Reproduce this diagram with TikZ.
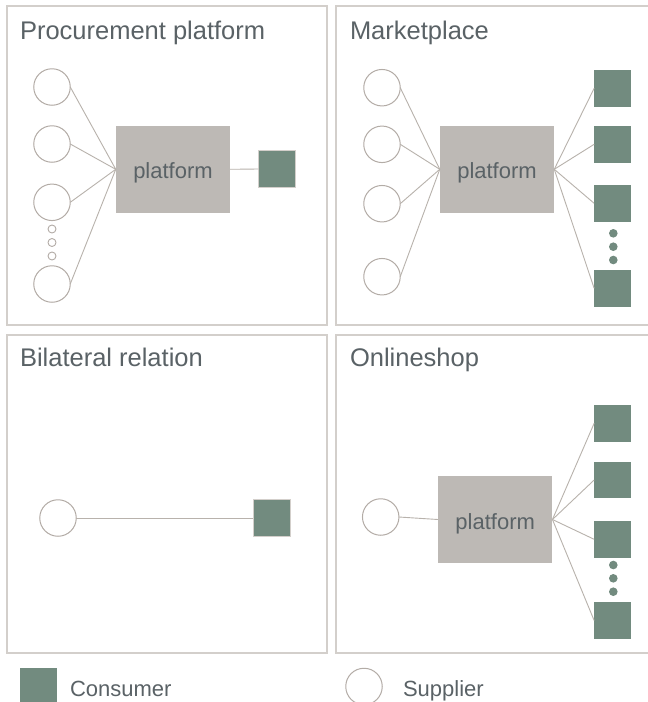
\documentclass[tikz,border=0pt]{standalone}
\usepackage{fontspec}
\setmainfont{Liberation Sans}
\usetikzlibrary{arrows}
\definecolor{framegray}{HTML}{D3CFCB}
\definecolor{supgray}{HTML}{B3ACA6}
\definecolor{linkgray}{HTML}{B8B2AC}
\definecolor{platgray}{HTML}{BDB9B5}
\definecolor{congreen}{HTML}{728B7F}
\definecolor{txtgray}{HTML}{5A6266}

\begin{document}
\begin{tikzpicture}[x=1pt,y=-1pt]
\tikzstyle{every node}=[inner sep=0pt, outer sep=0pt]
\tikzstyle{supplier}=[circle, draw=supgray, line width=1pt, fill=white, minimum size=36.5pt]
\tikzstyle{small}=[circle, draw=supgray, line width=0.9pt, fill=white, minimum size=8pt]
\tikzstyle{consumer}=[rectangle, fill=congreen, minimum size=36.7pt]
\tikzstyle{dot}=[circle, fill=congreen, minimum size=8.6pt]
\tikzstyle{platform}=[rectangle, fill=platgray, text=txtgray, minimum width=114.5pt, minimum height=86.7pt, text height=19pt, text depth=0pt, font=\fontsize{22}{26}\selectfont]
\tikzstyle{title}=[anchor=base west, text=txtgray, font=\fontsize{25.5}{30}\selectfont]
\tikzstyle{legend}=[anchor=base west, text=txtgray, font=\fontsize{22}{26}\selectfont]
\tikzstyle{frame}=[draw=framegray, line width=1.3pt]
\tikzstyle{link}=[draw=linkgray, line width=0.9pt]
\fill[white] (0,0) rectangle (648,702);
\useasboundingbox (0,0) rectangle (648,702);
% panels
\draw[frame] (7,6) rectangle (327,325);
\draw[frame] (336,6) rectangle (652,325);
\draw[frame] (7,335) rectangle (327,653);
\draw[frame] (336,335) rectangle (652,653);
% procurement platform
\draw (20,39.3) node (t1) [title] {Procurement platform};
\draw (52,87) node (s1) [supplier] {};
\draw (52,144) node (s2) [supplier] {};
\draw (52,202.3) node (s3) [supplier] {};
\draw (52,229) node (d1) [small] {};
\draw (52,242.5) node (d2) [small] {};
\draw (52,256) node (d3) [small] {};
\draw (52,284) node (s4) [supplier] {};
\draw (173,169.3) node (p1) [platform] {platform};
\draw (276.7,169) node (c1) [consumer, draw=framegray, line width=0.8pt] {};
\draw[link] (s1.east) -- (p1.west);
\draw[link] (s2.east) -- (p1.west);
\draw[link] (s3.east) -- (p1.west);
\draw[link] (s4.east) -- (p1.west);
\draw[link] (p1.east) -- (c1.west);
% marketplace
\draw (350,39.3) node (t2) [title] {Marketplace};
\draw (382,87.7) node (s5) [supplier] {};
\draw (382,144.3) node (s6) [supplier] {};
\draw (382,203.7) node (s7) [supplier] {};
\draw (382,276.7) node (s8) [supplier] {};
\draw (497,169.3) node (p2) [platform] {platform};
\draw (612.5,88.3) node (c2) [consumer] {};
\draw (612.5,144.3) node (c3) [consumer] {};
\draw (612.5,203.3) node (c4) [consumer] {};
\draw (613.3,233.3) node (d4) [dot] {};
\draw (613.3,246.7) node (d5) [dot] {};
\draw (613.3,260) node (d6) [dot] {};
\draw (612.5,288.3) node (c5) [consumer] {};
\draw[link] (s5.east) -- (p2.west);
\draw[link] (s6.east) -- (p2.west);
\draw[link] (s7.east) -- (p2.west);
\draw[link] (s8.east) -- (p2.west);
\draw[link] (p2.east) -- (c2.west);
\draw[link] (p2.east) -- (c3.west);
\draw[link] (p2.east) -- (c4.west);
\draw[link] (p2.east) -- (c5.west);
% bilateral relation
\draw (20,366) node (t3) [title] {Bilateral relation};
\draw (58,518) node (s9) [supplier] {};
\draw (271.7,518) node (c6) [consumer, draw=framegray, line width=0.8pt] {};
\draw[link] (s9) -- (c6);
% onlineshop
\draw (350,366) node (t4) [title] {Onlineshop};
\draw (380.7,517) node (s10) [supplier] {};
\draw (495.2,519.5) node (p4) [platform] {platform};
\draw (612.5,423.3) node (c7) [consumer] {};
\draw (612.5,480) node (c8) [consumer] {};
\draw (612.5,539.3) node (c9) [consumer] {};
\draw (613.3,565) node (d7) [dot] {};
\draw (613.3,578.3) node (d8) [dot] {};
\draw (613.3,591.7) node (d9) [dot] {};
\draw (612.5,620.5) node (c10) [consumer] {};
\draw[link] (s10.east) -- (p4.west);
\draw[link] (p4.east) -- (c7.west);
\draw[link] (p4.east) -- (c8.west);
\draw[link] (p4.east) -- (c9.west);
\draw[link] (p4.east) -- (c10.west);
% legend
\draw (38.5,686.5) node (lc) [consumer, minimum size=37pt] {};
\draw (70,696.5) node (lct) [legend] {Consumer};
\draw (364,686.5) node (ls) [supplier] {};
\draw (403,696.5) node (lst) [legend] {Supplier};
\end{tikzpicture}
\end{document}
